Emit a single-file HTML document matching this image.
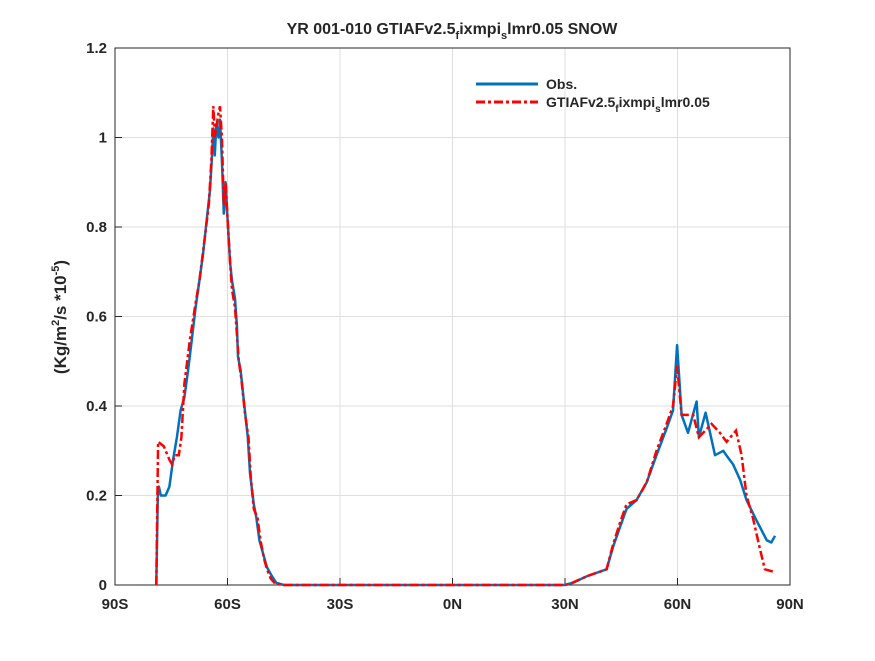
<!DOCTYPE html>
<html><head><meta charset="utf-8"><style>
body{margin:0;background:#fff;}
svg text{font-family:"Liberation Sans",sans-serif;font-weight:bold;fill:#262626;}
</style></head><body>
<svg id="chart" width="875" height="656">
<rect width="875" height="656" fill="#fff"/>
<rect x="115" y="48" width="675" height="537" fill="#fff"/>
<g id="grid"></g>
<g id="axes"></g>
<g id="series"></g>
<text x="452" y="34" text-anchor="middle" font-size="16">YR 001-010 GTIAFv2.5<tspan font-size="11" dy="5">f</tspan><tspan dy="-5">ixmpi</tspan><tspan font-size="11" dy="5">s</tspan><tspan dy="-5">lmr0.05 SNOW</tspan></text>
<text transform="translate(66,317) rotate(-90)" text-anchor="middle" font-size="17">(Kg/m<tspan font-size="11" dy="-7">2</tspan><tspan dy="7">/s *10</tspan><tspan font-size="11" dy="-7">-5</tspan><tspan dy="7">)</tspan></text>
<g>
<line x1="476" y1="84" x2="538" y2="84" stroke="#0072BD" stroke-width="3"/>
<text x="546" y="89" font-size="14">Obs.</text>
<line x1="476" y1="102" x2="538" y2="102" stroke="#FF0000" stroke-width="3" stroke-dasharray="9,3,3,3"/>
<text x="546" y="107" font-size="14">GTIAFv2.5<tspan font-size="10" dy="5">f</tspan><tspan dy="-5">ixmpi</tspan><tspan font-size="10" dy="5">s</tspan><tspan dy="-5">lmr0.05</tspan></text>
</g>
</svg>
<script>
const xTicks=[-90,-60,-30,0,30,60,90];
const xTickLabels=["90S","60S","30S","0N","30N","60N","90N"];
const yTicks=[0,0.2,0.4,0.6,0.8,1,1.2];
const yTickLabels=["0","0.2","0.4","0.6","0.8","1","1.2"];
const obsLat=[-79,-78.6,-78.3,-77.8,-76.5,-75.5,-74.5,-73.5,-72.5,-71.5,-70.5,-69.5,-68.5,-67.5,-66.5,-65.5,-64.7,-64.2,-63.8,-63.4,-63,-62.4,-62,-61.5,-61,-60.5,-60,-59.3,-58.8,-58,-57.5,-57.2,-56.5,-55.5,-54.6,-54,-53,-52.3,-51.5,-50.5,-49.5,-48.2,-47,-45,30,32,36,41.1,42.8,44.7,46.4,49.1,51.8,54.4,57.1,58.8,59.9,61.1,62.8,65.1,65.7,67.5,70,72.2,73,74.8,76.7,78.4,81,83.8,85,86];
const obsVal=[0,0.2,0.22,0.2,0.2,0.22,0.28,0.33,0.39,0.42,0.48,0.55,0.62,0.68,0.74,0.82,0.88,0.95,1.02,0.96,1.03,1.0,1.04,0.95,0.83,0.9,0.82,0.72,0.68,0.64,0.58,0.51,0.48,0.4,0.33,0.25,0.18,0.15,0.1,0.07,0.04,0.02,0.005,0,0,0.005,0.02,0.035,0.085,0.13,0.17,0.19,0.23,0.29,0.35,0.39,0.536,0.38,0.34,0.41,0.33,0.385,0.29,0.30,0.29,0.27,0.235,0.19,0.145,0.10,0.095,0.11];
const modLat=[-79,-78.5,-77,-75.5,-74.8,-74,-73,-72.3,-71.5,-70,-68.5,-67.5,-66,-65,-64.3,-63.8,-63.3,-62.5,-62,-61.5,-61,-60.5,-60,-59.3,-58.8,-58,-57.5,-57,-56.3,-55.3,-54.4,-53.8,-53,-52,-51.2,-50.3,-49.5,-48.5,-47.3,-45,30,32,36,41.1,42.8,44.7,46.4,49.1,51.8,54.4,57.1,58.8,59.9,61.1,64.2,65.7,69.1,71.3,73.1,75.6,77.1,78.4,80.1,82,83.3,85.5];
const modVal=[0,0.32,0.31,0.28,0.27,0.29,0.29,0.33,0.45,0.55,0.63,0.68,0.78,0.85,0.95,1.07,1.0,1.05,1.07,1.0,0.85,0.9,0.82,0.72,0.66,0.62,0.56,0.5,0.46,0.38,0.33,0.24,0.17,0.15,0.1,0.06,0.035,0.015,0.003,0,0,0.005,0.02,0.035,0.09,0.14,0.18,0.19,0.23,0.3,0.36,0.4,0.49,0.38,0.38,0.33,0.36,0.34,0.32,0.345,0.29,0.2,0.15,0.08,0.035,0.03];
const X0=115,X1=790,Y0=585,Y1=48;
const xs=v=>X0+(v+90)/180*(X1-X0);
const ys=v=>Y0-v/1.2*(Y0-Y1);
const NS="http://www.w3.org/2000/svg";
function mk(tag,attrs,parent){const e=document.createElementNS(NS,tag);for(const k in attrs)e.setAttribute(k,attrs[k]);parent.appendChild(e);return e;}
const grid=document.getElementById('grid'),axes=document.getElementById('axes'),ser=document.getElementById('series');
xTicks.forEach((t,i)=>{
 const l=mk('line',{x1:xs(t),x2:xs(t),y1:Y1,y2:Y0,stroke:'#dfdfdf','stroke-width':1},grid);
 
 
 const tk=mk('line',{x1:xs(t),x2:xs(t),y1:Y0,y2:Y0-7,stroke:'#262626'},axes);
 
 
 const tx=mk('text',{x:xs(t),y:Y0+24,'text-anchor':'middle','font-size':15},axes);
 tx.textContent=xTickLabels[i];
 
 
});
yTicks.forEach((t,i)=>{
 const l=mk('line',{x1:X0,x2:X1,y1:ys(t),y2:ys(t),stroke:'#dfdfdf','stroke-width':1},grid);
 
 
 const tk=mk('line',{x1:X0,x2:X0+7,y1:ys(t),y2:ys(t),stroke:'#262626'},axes);
 
 
 const tx=mk('text',{x:X0-8,y:ys(t)+5,'text-anchor':'end','font-size':15},axes);
 tx.textContent=yTickLabels[i];
 
 
});
const frame=mk('rect',{x:X0,y:Y1,width:X1-X0,height:Y0-Y1,fill:'none',stroke:'#262626','stroke-width':1},axes);


const pts=(la,va)=>la.map((l,i)=>xs(l).toFixed(1)+','+ys(va[i]).toFixed(1)).join(' ');
const o=mk('polyline',{points:pts(obsLat,obsVal),fill:'none',stroke:'#0072BD','stroke-width':2.5,'stroke-linejoin':'round'},ser);


const m=mk('polyline',{points:pts(modLat,modVal),fill:'none',stroke:'#FF0000','stroke-width':2.5,'stroke-dasharray':'9,3,3,3'},ser);


</script>
</body></html>
